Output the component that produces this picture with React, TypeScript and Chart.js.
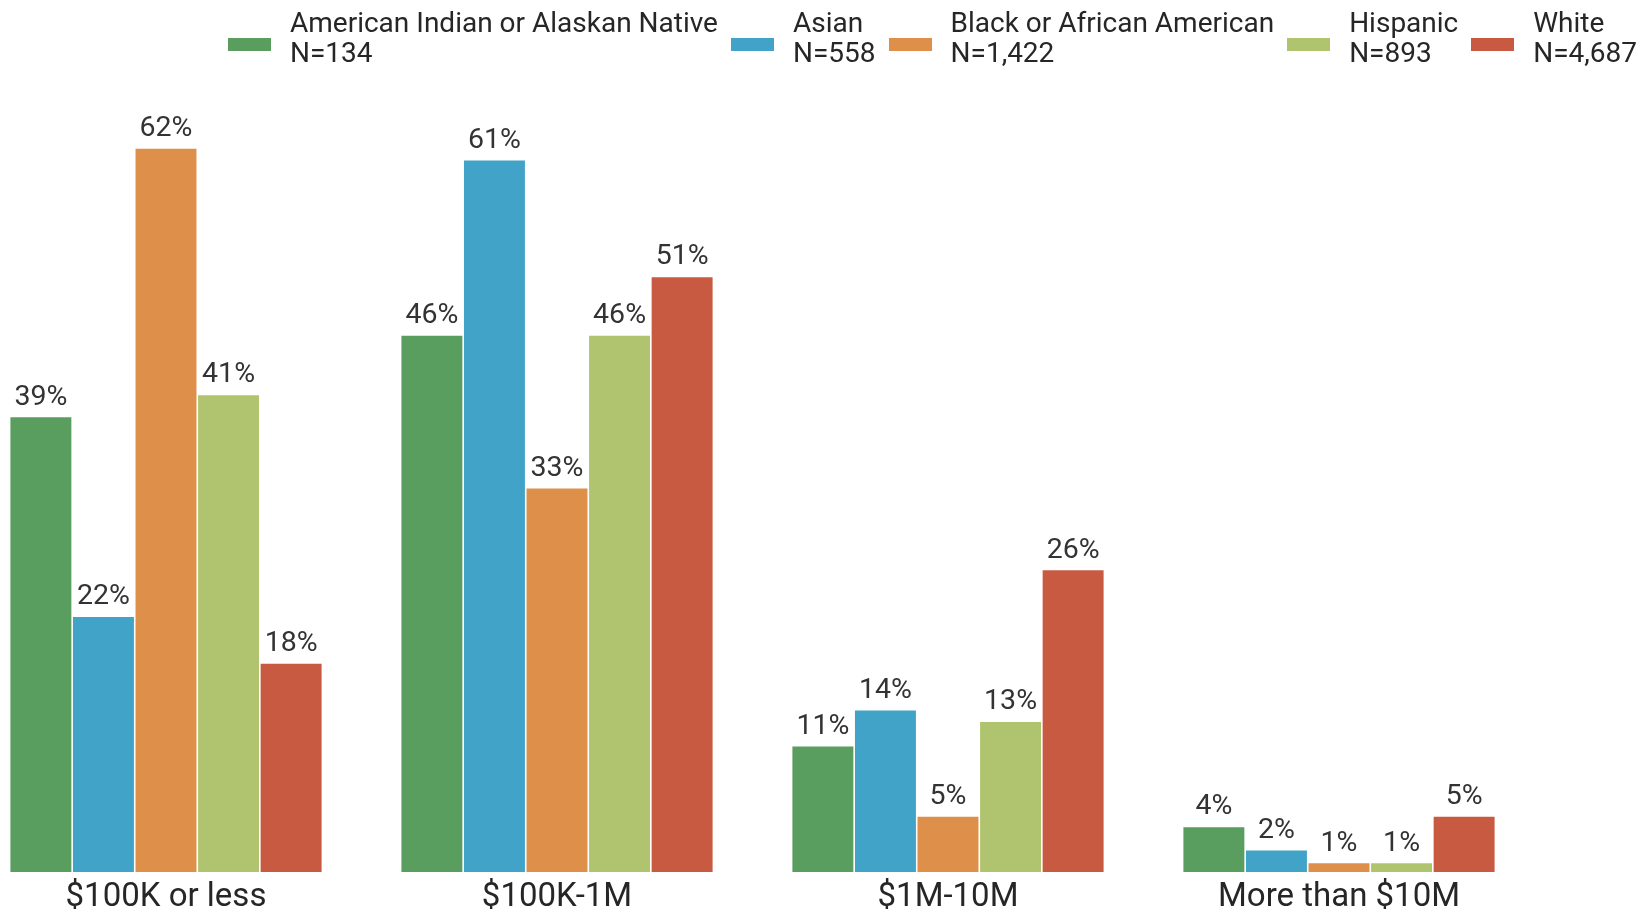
import React, { useEffect, useRef } from "react";
import { Chart, registerables } from "chart.js";

Chart.register(...registerables);

const categories = ["$100K or less", "$100K-1M", "$1M-10M", "More than $10M"];
const seriesNames = ["American Indian or Alaskan Native", "Asian", "Black or African American", "Hispanic", "White"];
const seriesCounts = ["N=134", "N=558", "N=1,422", "N=893", "N=4,687"];
const seriesColors = ["#5a9e5f", "#42a3c8", "#de904b", "#b0c46f", "#c95a42"];

const americanIndian = [39, 46, 10.8, 3.9];
const asian = [21.9, 61, 13.9, 1.9];
const black = [62, 32.9, 4.8, 0.8];
const hispanic = [40.9, 46, 12.9, 0.8];
const white = [17.9, 51, 25.9, 4.8];

const seriesValues = [americanIndian, asian, black, hispanic, white];

const FONT = "Roboto, 'Noto Sans', sans-serif";

const valueLabels = {
  id: "valueLabels",
  afterDatasetsDraw(chart: any) {
    const ctx = chart.ctx;
    ctx.save();
    ctx.font = `28.5px ${FONT}`;
    ctx.fillStyle = "#333333";
    ctx.textAlign = "center";
    ctx.textBaseline = "alphabetic";
    chart.data.datasets.forEach((ds: any, i: number) => {
      const meta = chart.getDatasetMeta(i);
      meta.data.forEach((el: any, j: number) => {
        const v = ds.data[j];
        ctx.fillText(`${Math.round(v)}%`, el.x, el.y - 12);
      });
    });
    ctx.restore();
  },
};

export default function App() {
  const canvasRef = useRef<HTMLCanvasElement | null>(null);

  useEffect(() => {
    if (!canvasRef.current) return;
    const chart = new Chart(canvasRef.current, {
      type: "bar",
      data: {
        labels: categories,
        datasets: seriesNames.map((name, i) => ({
          label: name,
          data: seriesValues[i],
          backgroundColor: seriesColors[i],
          borderColor: "rgba(255,255,255,0.7)",
          borderWidth: 0.8,
          barPercentage: 1.0,
          categoryPercentage: 0.8,
        })),
      },
      options: {
        responsive: false,
        maintainAspectRatio: false,
        animation: false,
        layout: { padding: { left: 10.5, right: 105.5, top: 113, bottom: 2.5 } },
        plugins: {
          legend: { display: false },
          tooltip: { enabled: false },
        },
        scales: {
          x: {
            grid: { display: false, drawTicks: false },
            border: { display: false },
            ticks: {
              color: "#262626",
              font: { family: FONT, size: 33 },
              padding: 6,
              maxRotation: 0,
            },
          },
          y: {
            display: false,
            min: 0,
            max: 65,
          },
        },
      },
      plugins: [valueLabels],
    });
    return () => chart.destroy();
  }, []);

  return (
    <div style={{ position: "absolute", left: 0, top: 0, width: 1640, height: 914, overflow: "hidden", background: "#fff" }}>
      <canvas
        ref={canvasRef}
        width={1680}
        height={926}
        style={{ position: "absolute", left: -40, top: 0, width: 1680, height: 926 }}
      />
      <div
        style={{
          position: "absolute",
          left: 228,
          top: 8,
          display: "flex",
          alignItems: "center",
          gap: 13,
          fontFamily: FONT,
          fontSize: 28,
          lineHeight: "30px",
          color: "#262626",
          whiteSpace: "nowrap",
        }}
      >
        {seriesNames.map((name, i) => (
          <div key={name} style={{ display: "flex", alignItems: "center", gap: 19 }}>
            <div style={{ width: 43, height: 13, background: seriesColors[i], marginTop: 12 }} />
            <div>
              <div>{name}</div>
              <div>{seriesCounts[i]}</div>
            </div>
          </div>
        ))}
      </div>
    </div>
  );
}
